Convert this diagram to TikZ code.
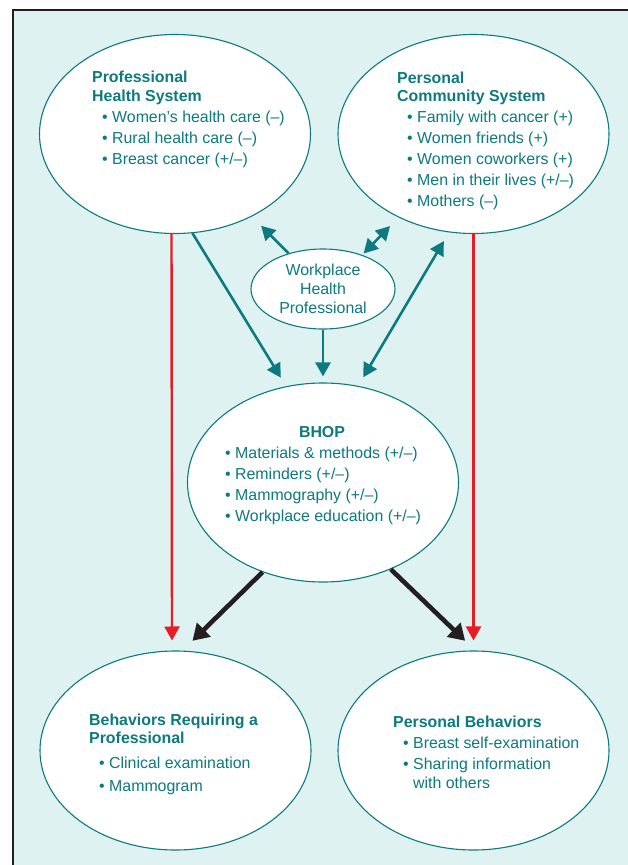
\documentclass[tikz,border=0pt]{standalone}
\usepackage{fontspec}
\setmainfont{Liberation Sans}
\usepackage{xcolor}
\usepackage{tikz}
\usetikzlibrary{shapes.geometric, arrows.meta}
\definecolor{tealtxt}{RGB}{12,122,127}
\definecolor{panelbg}{RGB}{223,242,242}
\definecolor{redline}{RGB}{232,28,36}
\definecolor{darkline}{RGB}{35,31,32}
\tikzstyle{bubble} = [ellipse, 
minimum width=271pt, 
minimum height=199pt,
inner sep=0pt, 
draw=tealtxt, 
line width=1.1pt, 
fill=white]
\tikzstyle{smallbubble} = [ellipse, 
minimum width=144pt, 
minimum height=80pt, 
inner sep=0pt, 
align=center, 
text=tealtxt, 
font=\fontsize{15.9}{19}\selectfont, 
draw=tealtxt, line width=1.1pt, fill=white]
\tikzstyle{txt} = [anchor=north west, 
inner sep=0pt, 
align=left, 
text=tealtxt, 
font=\fontsize{15.9}{21}\selectfont]
\tikzstyle{ttl} = [inner sep=0pt, text=tealtxt, font=\bfseries\fontsize{15.9}{21}\selectfont]
\tikzstyle{tealarrow} = [line width=2.6pt, draw=tealtxt, -{Triangle[length=14pt,width=15pt]}]
\tikzstyle{tealboth} = [line width=2.6pt, draw=tealtxt, {Triangle[length=14pt,width=15pt]}-{Triangle[length=14pt,width=15pt]}]
\tikzstyle{redarrow} = [line width=2.4pt, draw=redline, -{Triangle[length=14pt,width=15pt]}]
\tikzstyle{blackarrow} = [line width=4.6pt, draw=darkline, -{Triangle[length=16pt,width=19pt]}]
\newcommand{\itembul}{\hspace*{10pt}\textbullet\ }

\begin{document}
\begin{tikzpicture}[x=1pt, y=-1pt]
\useasboundingbox (0,0) rectangle (628,865);

% panel
\fill [panelbg] (13,10) rectangle (628,865);
\draw [darkline, line width=2.5pt] (13,865) -- (13,10) -- (628,10);

% the six bubbles
\node (phs) [bubble] at (175,134) {};
\node (pcs) [bubble] at (473.5,134) {};
\node (whp) [smallbubble] at (323,289) {Workplace\\Health\\Professional};
\node (bhop) [bubble] at (323,482.5) {};
\node (brp) [bubble] at (175.5,750.5) {};
\node (pb) [bubble] at (473.5,750.5) {};

% texts inside the bubbles
\node (phs-txt) [txt] at (92,71) {\textbf{Professional}\\[-2pt]
\textbf{Health System}\\
\itembul Women’s health care (–)\\
\itembul Rural health care (–)\\
\itembul Breast cancer (+/–)};
\node (pcs-txt) [txt] at (397,72) {\textbf{Personal}\\[-3pt]
\textbf{Community System}\\
\itembul Family with cancer (+)\\
\itembul Women friends (+)\\
\itembul Women coworkers (+)\\
\itembul Men in their lives (+/–)\\
\itembul Mothers (–)};
\node (bhop-ttl) [ttl] at (322,432) {BHOP};
\node (bhop-txt) [txt] at (225,447) {\textbullet\ Materials \& methods (+/–)\\
\textbullet\ Reminders (+/–)\\
\textbullet\ Mammography (+/–)\\
\textbullet\ Workplace education (+/–)};
\node (brp-txt) [txt] at (89,714) {\textbf{Behaviors Requiring a}\\[-3pt]
\textbf{Professional}\\[4pt]
\itembul Clinical examination\\[2pt]
\itembul Mammogram};
\node (pb-txt) [txt] at (393,716) {\textbf{Personal Behaviors}\\
\itembul Breast self-examination\\
\itembul Sharing information\\[-2pt]
\hspace*{10pt}\phantom{\textbullet\ }with others};

% arrows
\draw [redarrow, shorten >=10pt] (phs.268) -- (brp.92);
\draw [redarrow, shorten >=10pt] (pcs.south) -- (pb.north);
\draw [tealarrow, shorten >=10pt] (phs.280) -- (bhop.111);
\draw [tealarrow, shorten >=13pt] (whp.134) -- (phs.313);
\draw [tealboth, shorten <=2pt, shorten >=12pt] (whp.41) -- (pcs.228.5);
\draw [tealarrow, shorten >=6pt] (whp.south) -- (bhop.north);
\draw [tealboth, shorten <=10pt, shorten >=10pt] (bhop.70) -- (pcs.256);
\draw [blackarrow, shorten >=14pt] (bhop.236) -- (brp.86);
\draw [blackarrow, shorten >=14pt] (bhop.308) -- (pb.89);

\end{tikzpicture}
\end{document}
